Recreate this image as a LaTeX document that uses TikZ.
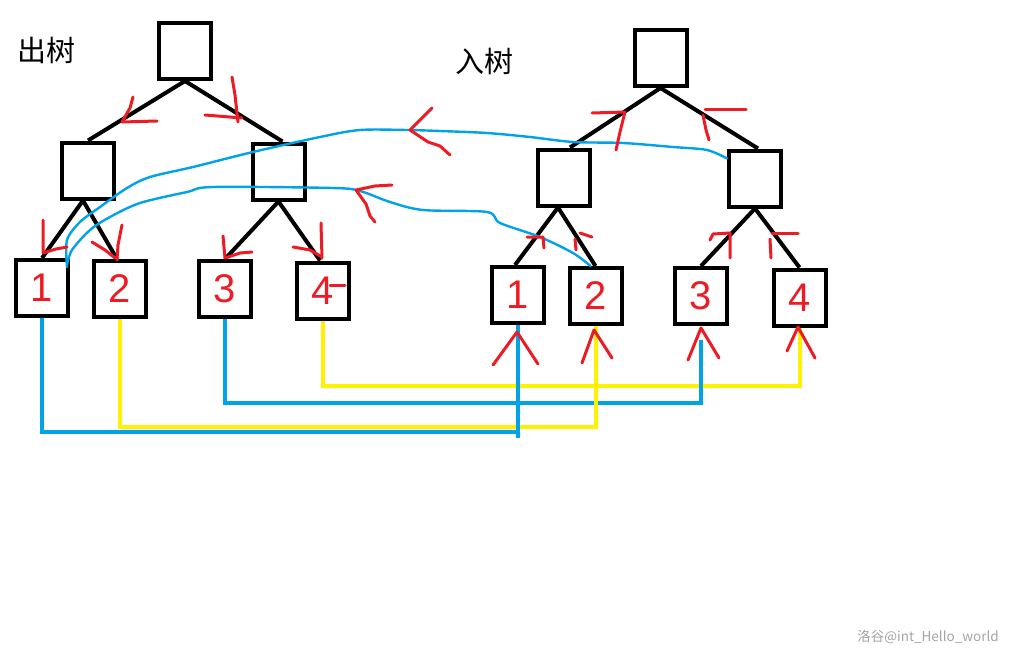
\documentclass[tikz,border=0pt]{standalone}
\usepackage{fontspec}
\setmainfont{Liberation Sans}
\newfontfamily\cjk{Noto Sans CJK SC}
\definecolor{pblue}{RGB}{0,162,232}
\definecolor{pyellow}{RGB}{255,242,0}
\definecolor{pred}{RGB}{237,28,36}
\definecolor{wm}{RGB}{165,165,165}
\begin{document}
\begin{tikzpicture}[x=1pt,y=-1pt,
 box/.style={draw=black, line width=4pt, minimum width=52pt, minimum height=56pt, inner sep=0pt, text=pred, font=\fontsize{40}{40}\selectfont},
 edge/.style={draw=black, line width=4pt},
 conn/.style={line width=4pt},
 curve/.style={draw=pblue, line width=2.4pt, line cap=round, line join=round},
 redmark/.style={draw=pred, line width=3pt, line cap=round, line join=round},
 cn/.style={font=\cjk\fontsize{29}{29}\selectfont, inner sep=0pt}]
\useasboundingbox (0,0) rectangle (1014,661);
\fill[white] (0,0) rectangle (1014,661);
% ---------- left tree ----------
\node[box] (Lr) at (185,51) {};
\node[box] (Llm) at (88,170.5) {};
\node[box] (Lrm) at (278.5,171.5) {};
\node[box] (L1) at (42,288) {1};
\node[box] (L2) at (120,289) {2};
\node[box] (L3) at (225,289) {3};
\node[box] (L4) at (323,290.5) {4};
\draw[edge] (Lr.south) -- (Llm.north);
\draw[edge] (Lr.south) -- ([xshift=4pt]Lrm.north);
\draw[edge] ([xshift=-5pt]Llm.south) -- (L1.north);
\draw[edge] ([xshift=-5pt]Llm.south) -- ([xshift=-3pt]L2.north);
\draw[edge] (Lrm.south) -- (L3.north);
\draw[edge] (Lrm.south) -- ([xshift=-3pt]L4.north);
\node[cn] (tout) at (46,50) {出树};
% ---------- right tree ----------
\node[box] (Rr) at (660.5,58) {};
\node[box] (Rlm) at (564,177.5) {};
\node[box] (Rrm) at (755,178.5) {};
\node[box] (R1) at (518,295) {1};
\node[box] (R2) at (595.5,296) {2};
\node[box] (R3) at (701,296) {3};
\node[box] (R4) at (799.5,297.5) {4};
\draw[edge] (Rr.south) -- ([xshift=6pt]Rlm.north);
\draw[edge] (Rr.south) -- ([xshift=3pt]Rrm.north);
\draw[edge] ([xshift=-6pt]Rlm.south) -- ([xshift=-3pt]R1.north);
\draw[edge] ([xshift=-6pt]Rlm.south) -- (R2.north);
\draw[edge] (Rrm.south) -- (R3.north);
\draw[edge] (Rrm.south) -- (R4.north);
\node[cn] (tin) at (484,61) {入树};
% ---------- bottom connectors ----------
\coordinate (y4) at (0,386);
\coordinate (y3) at (0,403);
\coordinate (y2) at (0,427);
\coordinate (y1) at (0,432);
\coordinate (b2end) at (701,340);
\draw[conn, pyellow] (L4.south) -- (L4.south |- y4) -- (R4.south |- y4) -- (R4.south);
\draw[conn, pblue] (L3.south) -- (L3.south |- y3) -- (b2end |- y3) -- (b2end);
\draw[conn, pyellow] (L2.south) -- (L2.south |- y2) -- (R2.south |- y2) -- (R2.south);
\draw[conn, pblue] (L1.south) -- (L1.south |- y1) -- (R1.south |- y1) -- (R1.south);
\draw[conn, pblue] (R1.south |- y1) -- ++(0,6);
% ---------- blue curves ----------
\draw[curve] plot[smooth, tension=0.5] coordinates {([yshift=-10pt]Rrm.north west) (707,150) (673,147) (623,143) (573,142) (530,137) (487,133) (440,131) (407,130) (360,130) (320,137) (253,152) (193,167) (150,177) (127,188) (100,207) (80,222) (67,240) ([xshift=-3pt,yshift=-9pt]L1.north east)};
\draw[curve] plot[smooth, tension=0.5] coordinates {([xshift=-5pt]R2.north) (573,253) (540,237) (500,223) (487,212) (423,210) (390,202) (360,191) (333,188) (213,187) (187,192) (140,203) (110,217) (90,230) (72,250) ([xshift=-3pt,yshift=-7pt]L1.north east)};
% red arrows on curves
\draw[redmark] (432,108) -- (422,118) -- (410,130) -- (428,142) -- (440,146) -- (450,155);
\draw[redmark] (392,185) -- (375,186) -- (356,190) -- (366,204) -- (370,216) -- (375,222);
% ---------- red marks, left tree ----------
\draw[redmark] (133,97) -- (130,108) -- (122,122) -- (157,121);
\draw[redmark] (232,77) -- (235,95) -- (238,122);
\draw[redmark] (205,115) -- (242,118);
\draw[redmark] (43,220) -- (43,253) -- (56,249) -- (67,247);
\draw[redmark] (122,225) -- (118,245) -- (117,260);
\draw[redmark] (92,242) -- (105,250) -- (115,258);
\draw[redmark] (223,236) -- (225,258) -- (240,253) -- (252,252);
\draw[redmark] (321,223) -- (322,258);
\draw[redmark] (293,247) -- (310,250) -- (322,257);
\draw[redmark] (330,285) -- (345,285);
% ---------- red marks, right tree ----------
\draw[redmark] (592,113) -- (625,112) -- (620,132) -- (616,150);
\draw[redmark] (705,109) -- (746,109);
\draw[redmark] (703,115) -- (706,130) -- (709,140);
\draw[redmark] (527,237) -- (543,237) -- (544,248);
\draw[redmark] (580,233) -- (592,237);
\draw[redmark] (575,239) -- (576,250);
\draw[redmark] (710,240) -- (713,234) -- (730,233) -- (730,258);
\draw[redmark] (772,233) -- (798,233);
\draw[redmark] (770,239) -- (771,258);
% red carets under right leaves
\draw[redmark] (493,365) -- (517,332) -- (538,364);
\draw[redmark] (582,363) -- (594,330) -- (612,358);
\draw[redmark] (688,360) -- (701,328) -- (719,358);
\draw[redmark] (787,351) -- (798,327) -- (815,358);
% watermark
\node[font=\cjk\fontsize{13.5}{13.5}\selectfont, text=wm, inner sep=0pt] (wmk) at (928,637) {洛谷@int\_Hello\_world};
\end{tikzpicture}
\end{document}
